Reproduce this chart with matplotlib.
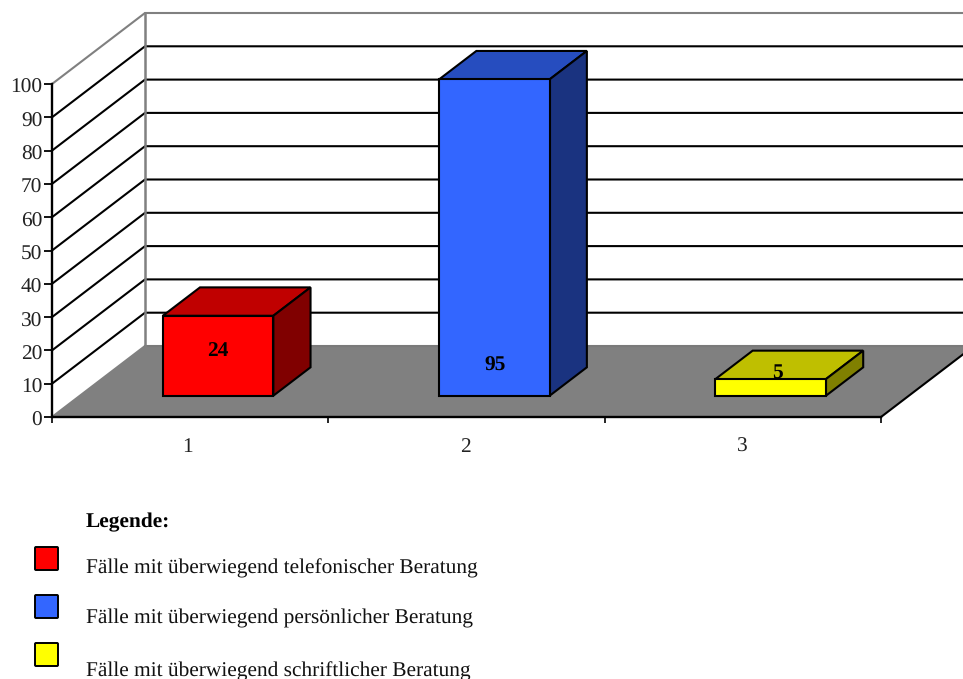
import matplotlib
matplotlib.use("Agg")
import matplotlib.pyplot as plt
from matplotlib.patches import Polygon, FancyBboxPatch
from matplotlib.transforms import ScaledTranslation

plt.rcParams['font.family'] = ['Liberation Serif', 'DejaVu Serif']
plt.rcParams['text.hinting'] = 'none'

categories = ['1', '2', '3']
values = [24, 95, 5]
y_ticks = [0, 10, 20, 30, 40, 50, 60, 70, 80, 90, 100]
legend_title = 'Legende:'
legend_labels = ['Fälle mit überwiegend telefonischer Beratung',
                 'Fälle mit überwiegend persönlicher Beratung',
                 'Fälle mit überwiegend schriftlicher Beratung']

front_colors = ['#ff0000', '#3366ff', '#ffff00']
top_colors = ['#c00000', '#264dbf', '#bfbf00']
side_colors = ['#800000', '#1a3380', '#808000']

# layout of the fake 3d box, all in figure pixels
W, H = 963, 679
LEFT, RIGHT, BOTTOM, TOP = 52, 881, 417, 84
DEPTH_X, DEPTH_Y = 93, 71
BAR_WIDTH = 0.4
BAR_D0, BAR_D1 = 0.3, 0.7
TEXT_SIZE = 15.4
LINE = 1.5

fig = plt.figure(figsize=(W / 100, H / 100), dpi=100)
ax = fig.add_axes([LEFT / W, 1 - BOTTOM / H, (RIGHT - LEFT) / W, (BOTTOM - TOP) / H])
ax.set_xlim(0, 3)
ax.set_ylim(0, 100)

dx = DEPTH_X / (RIGHT - LEFT) * 3
dy = DEPTH_Y / (BOTTOM - TOP) * 100


def project(x, y, d):
    # shift a point back along the depth direction (d from 0 to 1)
    return (x + d * dx, y + d * dy)


def face(points, color, edge='black', lw=LINE, z=3):
    ax.add_patch(Polygon(points, closed=True, facecolor=color, edgecolor=edge,
                         linewidth=lw, joinstyle='miter', clip_on=False, zorder=z))


# floor
face([project(0, 0, 0), project(3, 0, 0), project(3, 0, 1), project(0, 0, 1)],
     '#808080', edge='none', lw=0, z=1)
ax.plot(*zip(project(3, 0, 0), project(3, 0, 1)), color='black', lw=LINE, clip_on=False, zorder=2)
ax.plot(*zip(project(0, 0, 0), project(0, 0, 1)), color='#808080', lw=LINE, clip_on=False, zorder=2)
ax.plot(*zip(project(0, 0, 1), project(3, 0, 1)), color='#7a7a7a', lw=LINE, clip_on=False, zorder=2)

# walls and gridlines
for t in y_ticks[1:]:
    color = '#808080' if t == 100 else 'black'
    ax.plot(*zip(project(0, t, 0), project(0, t, 1), project(3, t, 1)),
            color=color, lw=LINE, clip_on=False, zorder=2, solid_joinstyle='miter')
ax.plot(*zip(project(0, 0, 1), project(0, 100, 1)), color='#808080', lw=1.8, clip_on=False, zorder=2)

# bars
for i, v in enumerate(values):
    x0 = i + 0.5 - BAR_WIDTH / 2
    x1 = i + 0.5 + BAR_WIDTH / 2
    face([project(x0, v, BAR_D0), project(x1, v, BAR_D0), project(x1, v, BAR_D1), project(x0, v, BAR_D1)],
         top_colors[i])
    face([project(x1, 0, BAR_D0), project(x1, 0, BAR_D1), project(x1, v, BAR_D1), project(x1, v, BAR_D0)],
         side_colors[i])
    face([project(x0, 0, BAR_D0), project(x1, 0, BAR_D0), project(x1, v, BAR_D0), project(x0, v, BAR_D0)],
         front_colors[i])

# value labels sit a little above the bar foot, pixel offsets from the foot centre
label_offsets = [(0, 45), (1, 30), (7, 23)]
for i, v in enumerate(values):
    ax.annotate(str(v), xy=project(i + 0.5, 0, BAR_D0), xytext=label_offsets[i],
                textcoords='offset pixels', ha='center', va='center',
                fontsize=TEXT_SIZE, fontweight='bold', color='black',
                annotation_clip=False, zorder=5)

# axes
for side in ['top', 'right']:
    ax.spines[side].set_visible(False)
ax.patch.set_alpha(0)
ax.spines['left'].set_linewidth(1.7)
ax.spines['bottom'].set_linewidth(1.7)
ax.spines['left'].set_zorder(4)
ax.spines['bottom'].set_zorder(4)
ax.set_yticks(y_ticks)
ax.set_yticklabels([str(t) for t in y_ticks], fontsize=TEXT_SIZE, color='#222222')
ax.tick_params(axis='y', length=6, width=1.3, pad=1)
down = ScaledTranslation(0, -2 / 100, fig.dpi_scale_trans)
for lab in ax.get_yticklabels():
    lab.set_transform(lab.get_transform() + down)
ax.set_xticks([0, 1, 2, 3])
ax.set_xticklabels([])
ax.tick_params(axis='x', direction='out', length=4, width=1.2)
x_label_shift = [-3, -1, -1]
for i, c in enumerate(categories):
    ax.annotate(c, xy=(i + 0.5, 0), xytext=(x_label_shift[i], -30), textcoords='offset pixels',
                ha='center', va='center', fontsize=TEXT_SIZE, color='#222222',
                annotation_clip=False)

# legend block in plain pixel coordinates
leg = fig.add_axes([0, 0, 1, 1])
leg.set_xlim(0, W)
leg.set_ylim(H, 0)
leg.axis('off')
leg.text(86, 522, legend_title, fontsize=TEXT_SIZE, fontweight='bold', va='center', ha='left')
swatch_tops = [547, 595, 643]
label_rows = [568, 618, 671]
for i, lab in enumerate(legend_labels):
    leg.add_patch(FancyBboxPatch((35, swatch_tops[i]), 23, 23, boxstyle='round,pad=0,rounding_size=1',
                                 facecolor=front_colors[i], edgecolor='black', linewidth=1.4))
    leg.text(86, label_rows[i], lab, fontsize=TEXT_SIZE, va='center', ha='left', color='#111111')

fig.savefig('out.png', dpi=100)
